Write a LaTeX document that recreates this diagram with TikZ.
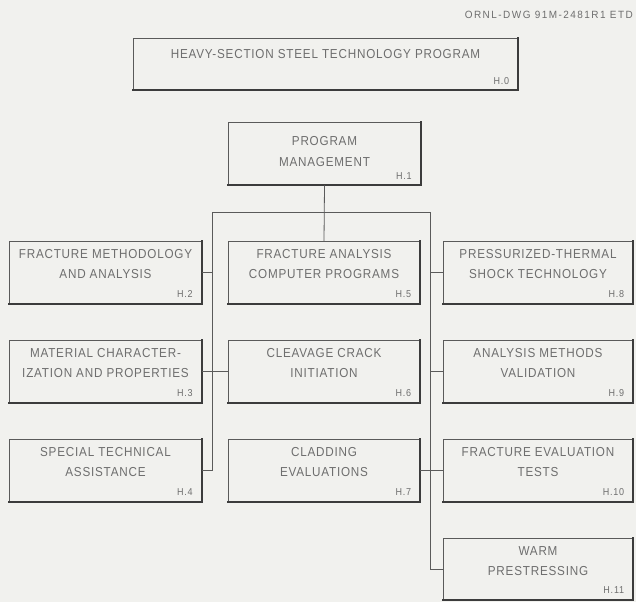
\documentclass[tikz,border=0pt]{standalone}
\usepackage{fontspec}
\setmainfont[FakeStretch=0.9,LetterSpace=6]{Liberation Sans}
\newfontfamily\tagfont[FakeStretch=0.9,LetterSpace=8]{Liberation Sans}
\newfontfamily\dwgfont[FakeStretch=0.95,LetterSpace=14]{Liberation Sans}
\definecolor{paper}{HTML}{F1F1EE}
\definecolor{ink}{HTML}{6E6E6E}
\definecolor{rule}{HTML}{5A5A5A}
\definecolor{edgeink}{HTML}{3C3C3C}
\begin{document}
\begin{tikzpicture}[x=1pt,y=-1pt,
  box/.style={draw=rule, line width=0.7pt, rectangle, minimum height=62pt, inner sep=0pt},
  colbox/.style={box, minimum width=192pt},
  title/.style={anchor=north, text=ink, font=\fontsize{13}{20.5}\selectfont, align=center, inner sep=0pt},
  tag/.style={anchor=south east, text=ink, font=\tagfont\fontsize{10}{12}\selectfont, inner sep=0pt},
  link/.style={draw=rule, line width=0.8pt}]
% page and margins
\fill[paper] (0,0) rectangle (636,602);
\useasboundingbox (0,0) rectangle (636,602);

\node[anchor=east, text=ink, font=\dwgfont\fontsize{10.5}{12}\selectfont, inner sep=0pt] (dwg) at (633,15) {ORNL-DWG 91M-2481R1 ETD};

% boxes
\node[box, minimum width=385pt, minimum height=52pt] (h0) at (325.5,64) {};
\node[colbox, minimum height=63pt] (h1) at (324.5,153.5) {};
\node[colbox] (h2) at (105.5,272.5) {};
\node[colbox] (h3) at (105.5,371.5) {};
\node[colbox] (h4) at (105.5,470.5) {};
\node[colbox] (h5) at (324,272.5) {};
\node[colbox] (h6) at (324,371.5) {};
\node[colbox] (h7) at (324,470.5) {};
\node[colbox, minimum width=190pt] (h8) at (538,272.5) {};
\node[colbox, minimum width=190pt] (h9) at (538,371.5) {};
\node[colbox, minimum width=190pt] (h10) at (538,470.5) {};
\node[colbox, minimum width=190pt, minimum height=61pt] (h11) at (538,569) {};

% heavy lower and right edges
\foreach \b in {h0,h1,h2,h3,h4,h5,h6,h7,h8,h9,h10,h11}
  \draw[draw=edgeink, line width=2.2pt, line cap=rect] (\b.north east) -- (\b.south east) -- (\b.south west);

% box texts
\node[title] (t0) at ([yshift=-12pt]h0.north) {HEAVY-SECTION STEEL TECHNOLOGY PROGRAM};
\node[title] (t1) at ([yshift=-15pt]h1.north) {PROGRAM\\MANAGEMENT};
\node[title] (t2) at ([yshift=-8pt]h2.north) {FRACTURE METHODOLOGY\\AND ANALYSIS};
\node[title] (t3) at ([yshift=-8pt]h3.north) {MATERIAL CHARACTER-\\IZATION AND PROPERTIES};
\node[title] (t4) at ([yshift=-8pt]h4.north) {SPECIAL TECHNICAL\\ASSISTANCE};
\node[title] (t5) at ([yshift=-8pt]h5.north) {FRACTURE ANALYSIS\\COMPUTER PROGRAMS};
\node[title] (t6) at ([yshift=-8pt]h6.north) {CLEAVAGE CRACK\\INITIATION};
\node[title] (t7) at ([yshift=-8pt]h7.north) {CLADDING\\EVALUATIONS};
\node[title] (t8) at ([yshift=-8pt]h8.north) {PRESSURIZED-THERMAL\\SHOCK TECHNOLOGY};
\node[title] (t9) at ([yshift=-8pt]h9.north) {ANALYSIS METHODS\\VALIDATION};
\node[title] (t10) at ([yshift=-8pt]h10.north) {FRACTURE EVALUATION\\TESTS};
\node[title] (t11) at ([yshift=-8pt]h11.north) {WARM\\PRESTRESSING};

% task numbers
\foreach \b/\n in {h0/H.0,h1/H.1,h2/H.2,h3/H.3,h4/H.4,h5/H.5,h6/H.6,h7/H.7,h8/H.8,h9/H.9,h10/H.10,h11/H.11}
  \node[tag] at ([xshift=-9pt,yshift=6pt]\b.south east) {\n};

% distribution bus
\coordinate (busL) at (212,212);
\coordinate (busR) at (430,212);
\draw[link] (h1.south) -- (h5.north);
\draw[link] (busL) -- (busR);
\draw[link] (busL) -- (busL |- h4.east) -- (h4.east);
\draw[link] (busR) -- (busR |- h11.west) -- (h11.west);
\draw[link] (h2.east) -- (h2.east -| busL);
\draw[link] (h3.east) -- (h6.west);
\draw[link] (h7.east) -- (h10.west);
\draw[link] (busR |- h8.west) -- (h8.west);
\draw[link] (busR |- h9.west) -- (h9.west);
\end{tikzpicture}
\end{document}
